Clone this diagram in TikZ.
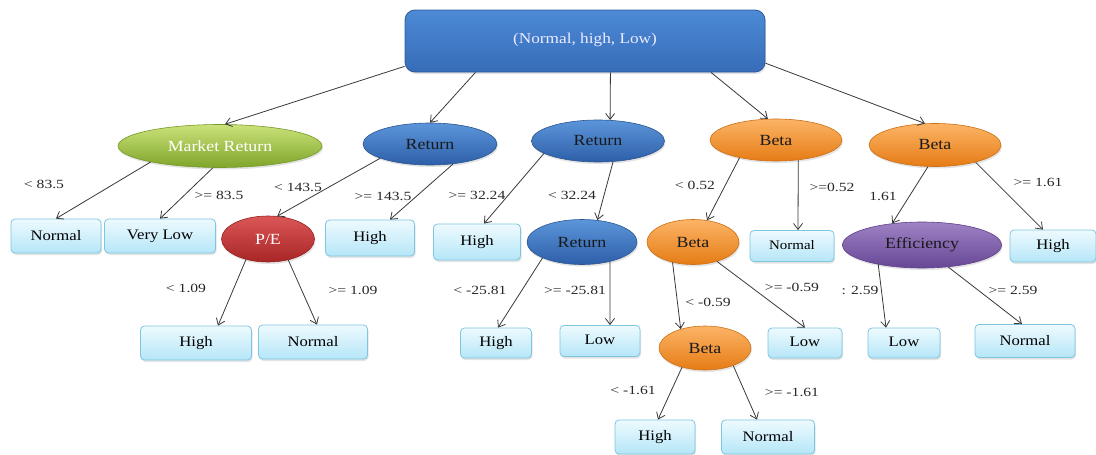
\documentclass[tikz,border=0pt]{standalone}
\usepackage{fontspec}
\setmainfont{Liberation Serif}
\newfontfamily\boxfont[FakeStretch=1.15]{Liberation Serif}
\newfontfamily\lblfont[FakeStretch=1.25]{Liberation Serif}
\usetikzlibrary{arrows.meta,shadows,shapes.geometric}

\definecolor{leaftop}{HTML}{EEFAFE}
\definecolor{leafbot}{HTML}{B5E6F8}
\definecolor{leafedge}{HTML}{7EC6E0}
\definecolor{roottop}{HTML}{4C8AD6}
\definecolor{rootbot}{HTML}{376CB8}
\definecolor{rootedge}{HTML}{2E5A9A}
\definecolor{grntop}{HTML}{CBE27A}
\definecolor{grnbot}{HTML}{7FA52A}
\definecolor{grnedge}{HTML}{769A28}
\definecolor{blutop}{HTML}{5C95DA}
\definecolor{blubot}{HTML}{2D5FA8}
\definecolor{bluedge}{HTML}{2A5590}
\definecolor{orgtop}{HTML}{FCB466}
\definecolor{orgbot}{HTML}{E57C15}
\definecolor{orgedge}{HTML}{CC6E16}
\definecolor{redtop}{HTML}{DC5656}
\definecolor{redbot}{HTML}{A82626}
\definecolor{rededge}{HTML}{952222}
\definecolor{purtop}{HTML}{9E82C4}
\definecolor{purbot}{HTML}{674796}
\definecolor{puredge}{HTML}{5C3F88}
\definecolor{linegray}{HTML}{383838}

\tikzset{
  softshadow/.style={drop shadow={opacity=0.22, shadow xshift=1pt, shadow yshift=-2pt}},
  leaf/.style={rectangle, rounded corners=4pt, draw=leafedge, line width=0.8pt,
    top color=leaftop, bottom color=leafbot, inner sep=0pt, softshadow,
    font=\boxfont\fontsize{14.5}{14.5}\selectfont, text=black},
  oval/.style={ellipse, line width=0.6pt, inner sep=0pt, softshadow,
    font=\boxfont\fontsize{15.5}{15.5}\selectfont},
  greenoval/.style={oval, draw=grnedge, top color=grntop, bottom color=grnbot, text=white},
  blueoval/.style={oval, draw=bluedge, top color=blutop, bottom color=blubot, text=black!90},
  orangeoval/.style={oval, draw=orgedge, top color=orgtop, bottom color=orgbot, text=black!90},
  redoval/.style={oval, draw=rededge, top color=redtop, bottom color=redbot, text=white},
  purpleoval/.style={oval, draw=puredge, top color=purtop, bottom color=purbot, text=black!90},
  rootbox/.style={rectangle, rounded corners=10pt, draw=rootedge, line width=0.8pt,
    top color=roottop, bottom color=rootbot, inner sep=0pt, softshadow,
    font=\boxfont\fontsize{15}{15}\selectfont, text=white!92!blue},
  edge/.style={draw=linegray, line width=0.8pt, -{Straight Barb[length=6pt,width=9pt]}},
  cond/.style={font=\lblfont\fontsize{12.5}{12.5}\selectfont, text=black!85, inner sep=0pt}
}
\newcommand{\up}[1]{\raisebox{2pt}{#1}}

\begin{document}
\begin{tikzpicture}[x=1pt,y=-1pt]
\useasboundingbox (0,0) rectangle (1096,455);

% root
\node[rootbox, minimum width=360pt, minimum height=62pt] (root) at (585,41)
  {\raisebox{6pt}{(Normal, high, Low)}};

% first level
\node[greenoval, minimum width=204pt, minimum height=43pt] (mr) at (220,146) {Market Return};
\node[blueoval, minimum width=134pt, minimum height=42pt] (r1) at (430,144) {Return};
\node[blueoval, minimum width=133pt, minimum height=42pt] (r2) at (598,141) {Return};
\node[orangeoval, minimum width=132pt, minimum height=42pt] (b1) at (776,140) {Beta};
\node[orangeoval, minimum width=132pt, minimum height=43pt] (b2) at (935,145) {Beta};

% second level
\node[leaf, minimum width=90pt, minimum height=34pt] (n1) at (56,236) {\up{Normal}};
\node[leaf, minimum width=111pt, minimum height=34pt] (vl) at (160,236) {\up{Very Low}};
\node[redoval, minimum width=93pt, minimum height=46pt] (pe) at (268,239) {P/E};
\node[leaf, minimum width=89pt, minimum height=36pt] (hr1) at (370,238) {\up{High}};
\node[leaf, minimum width=87pt, minimum height=36pt] (hr2) at (477,242) {\up{High}};
\node[blueoval, minimum width=110pt, minimum height=45pt] (r3) at (582,242) {Return};
\node[orangeoval, minimum width=92pt, minimum height=45pt] (b3) at (693,242) {Beta};
\node[leaf, minimum width=84pt, minimum height=31pt] (nb1) at (792,246) {\fontsize{13}{13}\selectfont\up{Normal}};
\node[purpleoval, minimum width=159pt, minimum height=46pt] (eff) at (922,245) {Efficiency};
\node[leaf, minimum width=86pt, minimum height=32pt] (hb2) at (1053,246) {\up{High}};

% third level
\node[leaf, minimum width=111pt, minimum height=34pt] (hpe) at (196,343) {\up{High}};
\node[leaf, minimum width=109pt, minimum height=34pt] (npe) at (313,342) {\up{Normal}};
\node[leaf, minimum width=71pt, minimum height=30pt] (hr3) at (496,343) {\up{High}};
\node[leaf, minimum width=80pt, minimum height=31pt] (lr3) at (600,341) {\up{Low}};
\node[orangeoval, minimum width=92pt, minimum height=44pt] (b4) at (705,348) {Beta};
\node[leaf, minimum width=74pt, minimum height=30pt] (lb3) at (805,343) {\up{Low}};
\node[leaf, minimum width=72pt, minimum height=30pt] (leff) at (904,343) {\up{Low}};
\node[leaf, minimum width=100pt, minimum height=33pt] (neff) at (1025,341) {\up{Normal}};

% fourth level
\node[leaf, minimum width=80pt, minimum height=34pt] (hb4) at (655,437) {\up{High}};
\node[leaf, minimum width=93pt, minimum height=34pt] (nb4) at (768,437) {\up{Normal}};

% connectors from the root
\draw[edge] (root.188) -- (mr.77);
\draw[edge] (root.196) -- (r1.north);
\draw[edge] (root.-51) -- (r2.60);
\draw[edge] (root.-14) -- (b1.111);
\draw[edge] (root.-7.6) -- (b2.115);

% connectors below the first level
\draw[edge] (mr.193) -- (n1.north);
\draw[edge] (mr.-108) -- (vl.north);
\draw[edge] (r1.196) -- (pe.68);
\draw[edge] (r1.-41) -- ([xshift=20pt]hr1.north);
\draw[edge] (r2.193) -- ([xshift=7pt]hr2.north);
\draw[edge] (r2.-54) -- (r3.55);
\draw[edge] (b1.206) -- (b3.57);
\draw[edge] (b1.-42) -- ([xshift=6pt]nb1.north);
\draw[edge] (b2.-108) -- (eff.144);
\draw[edge] (b2.-23) -- ([xshift=-10pt]hb2.north);

% connectors below the second level
\draw[edge] (pe.223) -- ([xshift=22pt]hpe.north);
\draw[edge] (pe.-46) -- ([xshift=4pt]npe.north);
\draw[edge] (r3.202) -- ([xshift=2pt]hr3.north);
\draw[edge] (r3.-35) -- ([xshift=10pt]lr3.north);
\draw[edge] (b3.225) -- (b4.142);
\draw[edge] (b3.-39) -- (lb3.north);
\draw[edge] (eff.204) -- ([xshift=-18pt]leff.north);
\draw[edge] (eff.-40) -- ([xshift=-3pt]neff.north);

% connectors below the third level
\draw[edge] (b4.220) -- ([xshift=3pt]hb4.north);
\draw[edge] (b4.-32) -- ([xshift=-11pt]nb4.north);

% split conditions
\node[cond] (c1) at (44,184) {< 83.5};
\node[cond] (c2) at (219,195) {>= 83.5};
\node[cond] (c3) at (298,187) {< 143.5};
\node[cond] (c4) at (383,196) {>= 143.5};
\node[cond] (c5) at (477,195) {>= 32.24};
\node[cond] (c6) at (572,195) {< 32.24};
\node[cond] (c7) at (695,185) {< 0.52};
\node[cond] (c8) at (832,187) {>=0.52};
\node[cond] (c9) at (883,196) {1.61};
\node[cond] (c10) at (1038,182) {>= 1.61};
\node[cond] (c11) at (186,288) {< 1.09};
\node[cond] (c12) at (353,290) {>= 1.09};
\node[cond] (c13) at (480,290) {< -25.81};
\node[cond] (c14) at (575,290) {>= -25.81};
\node[cond] (c15) at (708,302) {< -0.59};
\node[cond] (c16) at (792,287) {>= -0.59};
\node[cond] (c17) at (860,290) {: 2.59};
\node[cond] (c18) at (1013,290) {>= 2.59};
\node[cond] (c19) at (633,390) {< -1.61};
\node[cond] (c20) at (792,392) {>= -1.61};
\end{tikzpicture}
\end{document}
